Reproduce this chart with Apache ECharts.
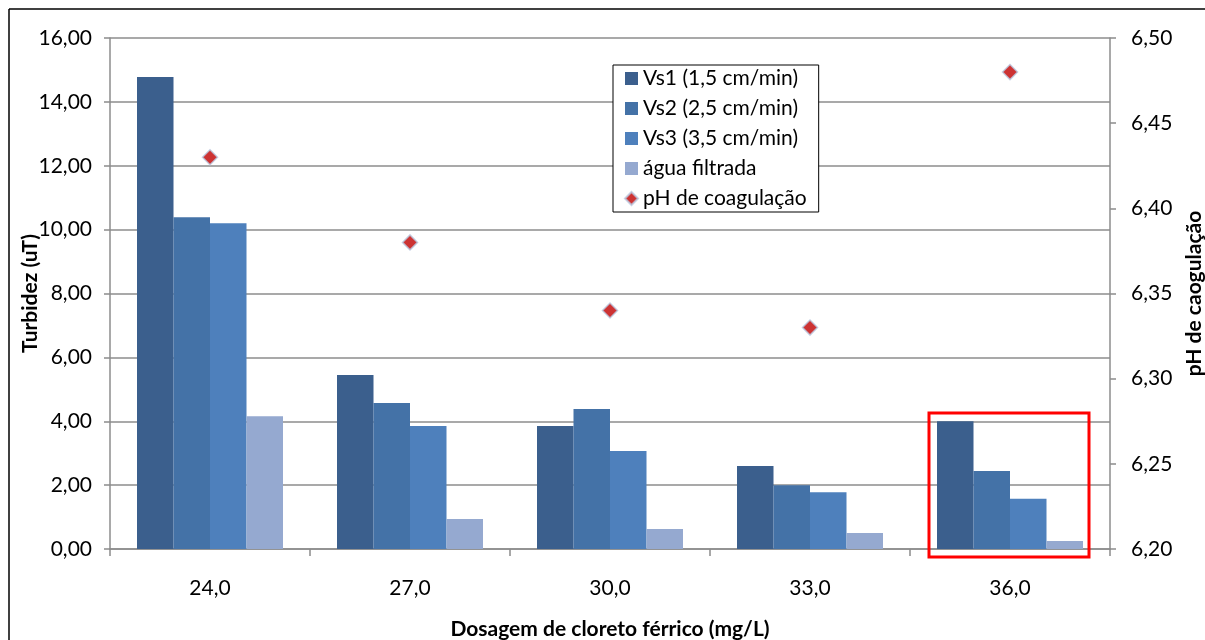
<!DOCTYPE html>
<html>
<head>
<meta charset="utf-8">
<script src="https://cdn.jsdelivr.net/npm/echarts@6/dist/echarts.min.js"></script>
<style>
  html, body { margin: 0; padding: 0; background: #fff; }
  #chart { width: 1205px; height: 640px; }
</style>
</head>
<body>
<div id="chart"></div>
<script>
// dosagem de cloreto férrico (mg/L)
var categories = ['24,0', '27,0', '30,0', '33,0', '36,0'];
var vs1 = [14.78, 5.45, 3.85, 2.60, 4.00];
var vs2 = [10.39, 4.57, 4.38, 2.00, 2.44];
var vs3 = [10.20, 3.85, 3.07, 1.78, 1.57];
var aguaFiltrada = [4.16, 0.94, 0.63, 0.50, 0.25];
var phCoagulacao = [6.43, 6.38, 6.34, 6.33, 6.48];

var dom = document.getElementById('chart');
var myChart = echarts.init(dom);

var font = 'Lato, "Open Sans", sans-serif';
var gray = '#8c8c8c';

function virgula(d) {
    return function (v) { return v.toFixed(d).replace('.', ','); };
}

var option = {
    animation: false,
    textStyle: { fontFamily: font, color: '#000' },
    grid: { left: 110, right: 95, top: 38, bottom: 91, outerBoundsMode: 'none', containLabel: false },
    legend: {
        orient: 'vertical',
        left: 613,
        top: 65,
        padding: [3, 12, 3, 11],
        itemWidth: 13,
        itemHeight: 13,
        itemGap: 9,
        borderColor: '#000',
        borderWidth: 1,
        backgroundColor: '#fff',
        textStyle: { fontFamily: font, fontSize: 21, color: '#000', lineHeight: 21 },
        data: [
            { name: 'Vs1 (1,5 cm/min)', icon: 'rect' },
            { name: 'Vs2 (2,5 cm/min)', icon: 'rect' },
            { name: 'Vs3 (3,5 cm/min)', icon: 'rect' },
            { name: 'água filtrada', icon: 'rect' },
            { name: 'pH de coagulação', icon: 'diamond' }
        ]
    },
    xAxis: {
        type: 'category',
        data: categories,
        name: 'Dosagem de cloreto férrico (mg/L)',
        nameLocation: 'middle',
        nameGap: 70,
        nameMoveOverlap: false,
        nameTextStyle: { fontFamily: font, fontSize: 21, fontWeight: 'bold' },
        axisLine: { lineStyle: { color: gray, width: 1.5 } },
        axisTick: { show: true, length: 7, lineStyle: { color: gray, width: 1.5 } },
        axisLabel: { fontSize: 21, color: '#000', margin: 29 }
    },
    yAxis: [
        {
            type: 'value',
            min: 0,
            max: 16,
            interval: 2,
            name: 'Turbidez (uT)',
            nameLocation: 'middle',
            nameGap: 69,
            nameRotate: 90,
            nameMoveOverlap: false,
            nameTextStyle: { fontFamily: font, fontSize: 21, fontWeight: 'bold' },
            axisLine: { show: true, lineStyle: { color: gray, width: 1.5 } },
            axisTick: { show: true, length: 6, lineStyle: { color: gray, width: 1.5 } },
            axisLabel: { fontSize: 21, color: '#000', margin: 18, formatter: virgula(2) },
            splitLine: { lineStyle: { color: gray, width: 1.5 } }
        },
        {
            type: 'value',
            min: 6.2,
            max: 6.5,
            interval: 0.05,
            name: 'pH de caogulação',
            nameLocation: 'middle',
            nameGap: 74,
            nameRotate: 90,
            nameMoveOverlap: false,
            nameTextStyle: { fontFamily: font, fontSize: 21, fontWeight: 'bold' },
            axisLine: { show: true, lineStyle: { color: gray, width: 1.5 } },
            axisTick: { show: true, length: 6, lineStyle: { color: gray, width: 1.5 } },
            axisLabel: { fontSize: 21, color: '#000', margin: 21, formatter: virgula(2) },
            splitLine: { show: false }
        }
    ],
    series: [
        {
            name: 'Vs1 (1,5 cm/min)',
            type: 'bar',
            data: vs1,
            barGap: '0%',
            barCategoryGap: '27%',
            itemStyle: { color: '#3b5f8d' }
        },
        {
            name: 'Vs2 (2,5 cm/min)',
            type: 'bar',
            data: vs2,
            itemStyle: { color: '#4472a7' }
        },
        {
            name: 'Vs3 (3,5 cm/min)',
            type: 'bar',
            data: vs3,
            itemStyle: { color: '#4e80bc' }
        },
        {
            name: 'água filtrada',
            type: 'bar',
            data: aguaFiltrada,
            itemStyle: { color: '#95a9d0' }
        },
        {
            name: 'pH de coagulação',
            type: 'scatter',
            yAxisIndex: 1,
            data: phCoagulacao,
            symbol: 'diamond',
            symbolSize: 15,
            itemStyle: { color: '#c00000', borderColor: '#b9c7de', borderWidth: 1.5 },
            z: 5
        }
    ],
    graphic: [
        // moldura da figura (esquerda e topo)
        { type: 'line', shape: { x1: 9, y1: 9, x2: 1205, y2: 9 }, style: { stroke: '#000', lineWidth: 1.5 } },
        { type: 'line', shape: { x1: 9, y1: 9, x2: 9, y2: 640 }, style: { stroke: '#000', lineWidth: 1.5 } },
        // destaque vermelho em 36,0
        {
            type: 'rect',
            shape: { x: 929, y: 413, width: 160, height: 144 },
            style: { fill: 'none', stroke: '#ff0000', lineWidth: 3 },
            z: 10
        }
    ]
};

if (option && typeof option === 'object') {
    myChart.setOption(option);
}
</script>
</body>
</html>
